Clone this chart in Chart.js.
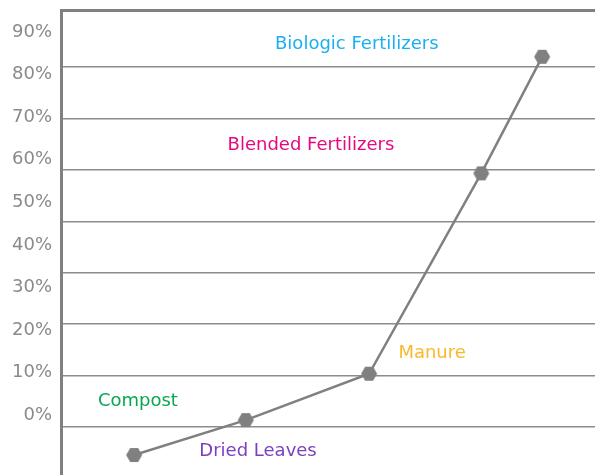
<!DOCTYPE html>
<html>
<head>
<meta charset="utf-8">
<script src="https://cdn.jsdelivr.net/npm/chart.js@4/dist/chart.umd.min.js"></script>
<style>
  html, body { margin: 0; padding: 0; background: #fff; overflow: hidden; }
  canvas { display: block; }
</style>
</head>
<body>
<canvas id="c" width="595" height="475"></canvas>
<script>
// line points (x position on a 0-100 horizontal scale, y in %)
const pointX = [13.7, 34.6, 57.7, 78.7, 90.1];
const pointY = [-9.4, -1.2, 9.7, 56.8, 84.2];

// left axis tick labels
const yTicks = [0, 10, 20, 30, 40, 50, 60, 70, 80, 90];
// horizontal rule positions (separate evenly spaced grid)
const gridVals = [0, 1, 2, 3, 4, 5, 6, 7];

// category captions
const labelText = ['Biologic Fertilizers', 'Blended Fertilizers', 'Manure', 'Compost', 'Dried Leaves'];
const labelX = [55.4, 46.8, 69.5, 14.4, 36.9];
const labelY = [87.2, 63.4, 14.6, 3.1, -8.5];
const labelColor = ['#1ab0ef', '#e5087f', '#fbb829', '#0aa652', '#7b3fbf'];

const GREY = '#808080';
const FONT = '"DejaVu Sans", Verdana, sans-serif';

// hexagon marker
function hexagon(r) {
  const cv = document.createElement('canvas');
  cv.width = r * 2 + 2; cv.height = r * 2 + 2;
  const g = cv.getContext('2d');
  const cx = r + 1, cy = r + 1;
  g.beginPath();
  for (let i = 0; i < 6; i++) {
    const a = Math.PI / 3 * i;
    const px = cx + r * Math.cos(a), py = cy + r * Math.sin(a);
    i ? g.lineTo(px, py) : g.moveTo(px, py);
  }
  g.closePath();
  g.fillStyle = GREY;
  g.fill();
  return cv;
}

const captions = {
  id: 'captions',
  afterDatasetsDraw(chart) {
    const { ctx, scales: { x, y } } = chart;
    ctx.save();
    ctx.font = '18px ' + FONT;
    ctx.textAlign = 'center';
    ctx.textBaseline = 'middle';
    labelText.forEach((t, i) => {
      ctx.fillStyle = labelColor[i];
      ctx.fillText(t, x.getPixelForValue(labelX[i]), y.getPixelForValue(labelY[i]));
    });
    ctx.restore();
  }
};

new Chart(document.getElementById('c'), {
  type: 'scatter',
  data: {
    datasets: [{
      data: pointX.map((v, i) => ({ x: v, y: pointY[i] })),
      showLine: true,
      borderColor: GREY,
      borderWidth: 2.5,
      pointStyle: hexagon(8),
      pointRadius: 8,
      clip: false
    }]
  },
  options: {
    responsive: false,
    animation: false,
    devicePixelRatio: 1,
    layout: { padding: 0, autoPadding: false },
    plugins: { legend: { display: false }, tooltip: { enabled: false } },
    scales: {
      x: {
        type: 'linear',
        position: 'top',
        min: 0, max: 100,
        grid: { display: false, drawTicks: false },
        ticks: { display: false },
        border: { color: GREY, width: 3 },
        afterFit: s => { s.height = 10; s.paddingLeft = 0; s.paddingRight = 0; }
      },
      y: {
        type: 'linear',
        min: -14.1, max: 95.2,
        afterBuildTicks: s => { s.ticks = yTicks.map(v => ({ value: v })); },
        grid: { display: false, drawTicks: false },
        border: { color: GREY, width: 3 },
        ticks: {
          color: '#8a8a8a',
          padding: 9,
          font: { family: FONT, size: 18 },
          callback: v => v + '%'
        },
        afterFit: s => { s.width = 61; s.paddingTop = 0; s.paddingBottom = 0; }
      },
      y2: {
        type: 'linear',
        position: 'right',
        min: -0.933, max: 8.108,
        afterBuildTicks: s => { s.ticks = gridVals.map(v => ({ value: v })); },
        grid: { color: '#8c8c8c', lineWidth: 1.5, drawTicks: false },
        border: { display: false },
        ticks: { display: false },
        afterFit: s => { s.width = 0; s.paddingTop = 0; s.paddingBottom = 0; }
      }
    }
  },
  plugins: [captions]
});
</script>
</body>
</html>
